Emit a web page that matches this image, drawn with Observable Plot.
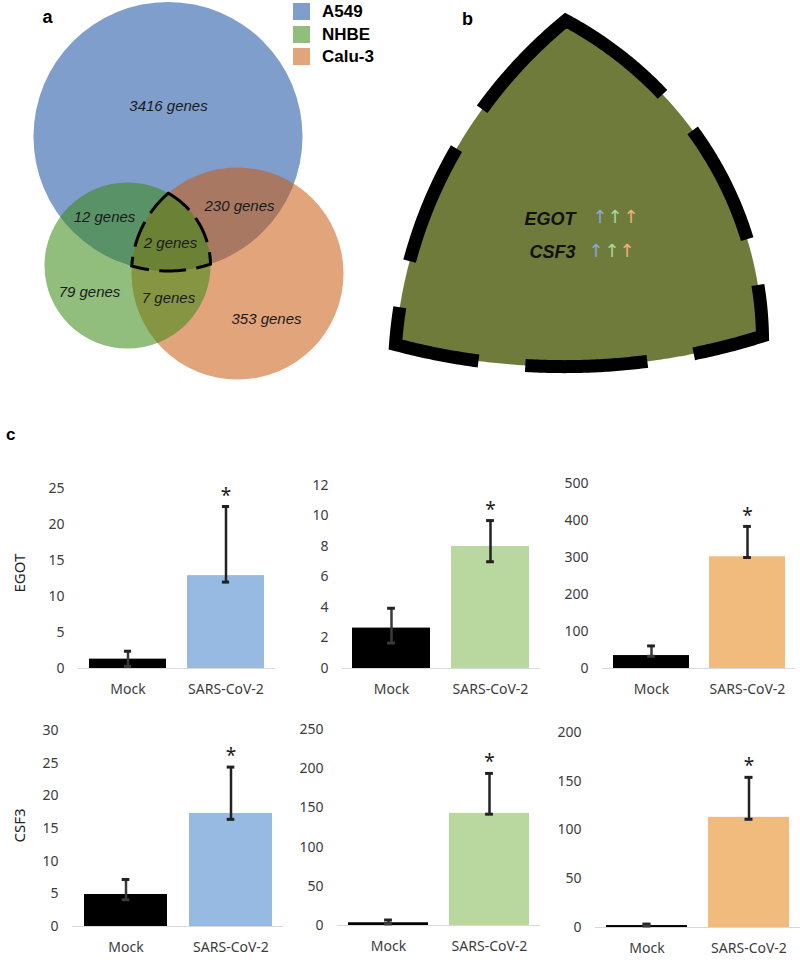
<!DOCTYPE html>
<html><head><meta charset="utf-8">
<script src="https://cdn.jsdelivr.net/npm/d3@7"></script>
<script src="https://cdn.jsdelivr.net/npm/@observablehq/plot@0.6"></script>
<style>
body{margin:0;background:#fff;}
#fig{position:relative;width:800px;height:960px;overflow:hidden;font-family:"Liberation Sans",Arial,sans-serif;color:#000;}
.panel{position:absolute;}
.plabel{position:absolute;font-weight:bold;line-height:1;}
.leg{position:absolute;display:flex;align-items:center;font-weight:bold;font-size:17px;line-height:1;}
.leg span.sw{display:inline-block;width:17px;height:17px;margin-right:12px;}
</style></head>
<body><div id="fig"></div>
<script>
// ---------------- DATA ----------------
const cellLines = ["A549", "NHBE", "Calu-3"];
const legendColors = ["#809ecc", "#92be7d", "#e2a47a"];
const vennFill = {"A549": "#184fa2", "NHBE": "#398913", "Calu-3": "#ca5a0d"};
// Venn circle geometry (diagram units = px of panel a)
const vennSetNames = ["A549", "NHBE", "Calu-3"];
const vennCx = [167.5, 127, 237];
const vennCy = [136, 265, 273];
const vennR = [134.5, 83, 106];
// region gene counts
const vennRegionCounts = [3416, 12, 230, 2, 79, 7, 353];
const vennLabelX = [168, 104, 239, 170, 89, 168, 266];
const vennLabelY = [106, 217, 206, 243, 292, 298, 319];

const commonGenes = ["EGOT", "CSF3"];
const arrowColors = ["#8fa6d6", "#a6d89b", "#f3b07a"];

const conditions = ["Mock", "SARS-CoV-2"];
const significant = [false, true];
const barColors = ["#96bae2", "#b8d8a0", "#f2bb7e"];
const egotMean = [[1.3, 12.9], [2.65, 8.0], [35, 302]];
const egotErrLow = [[0.3, 12.0], [1.67, 7.0], [33, 300]];
const egotErrHigh = [[2.4, 22.5], [3.95, 9.7], [61, 384]];
const csf3Mean = [[4.9, 17.3], [3.5, 143], [2, 113]];
const csf3ErrLow = [[4.1, 16.4], [2, 142], [1.5, 111]];
const csf3ErrHigh = [[7.2, 24.4], [7, 194], [3.5, 154]];
const egotTicks = [[0, 5, 10, 15, 20, 25], [0, 2, 4, 6, 8, 10, 12], [0, 100, 200, 300, 400, 500]];
const csf3Ticks = [[0, 5, 10, 15, 20, 25, 30], [0, 50, 100, 150, 200, 250], [0, 50, 100, 150, 200]];

// ---------------- LAYOUT ----------------
const panelLayout = [
  [{left:0,top:470,width:285,height:230,ml:78,mr:10,mt:18,mb:32},
   {left:285,top:470,width:260,height:230,ml:57,mr:5,mt:15,mb:32},
   {left:545,top:470,width:255,height:230,ml:57,mr:5,mt:13,mb:32}],
  [{left:0,top:715,width:290,height:245,ml:72,mr:7,mt:15,mb:34},
   {left:290,top:715,width:255,height:245,ml:47,mr:5,mt:14,mb:35},
   {left:545,top:715,width:255,height:245,ml:50,mr:0,mt:17,mb:33}]
];

const fig = document.getElementById("fig");
function place(node, left, top) {
  const d = document.createElement("div");
  d.className = "panel"; d.style.left = left + "px"; d.style.top = top + "px";
  d.appendChild(node); fig.appendChild(d);
}
function addLabel(t, left, top, size) {
  const d = document.createElement("div");
  d.className = "plabel"; d.textContent = t;
  d.style.left = left + "px"; d.style.top = top + "px"; d.style.fontSize = size + "px";
  fig.appendChild(d);
}

// ---------------- Venn geometry: triple intersection ----------------
const circles = vennSetNames.map((s, i) => ({set: s, cx: vennCx[i], cy: vennCy[i], r: vennR[i]}));
const inside = (p, c, tol = 0.01) => Math.hypot(p[0] - c.cx, p[1] - c.cy) <= c.r + tol;
function intersections(a, b) {
  const dx = b.cx - a.cx, dy = b.cy - a.cy, d = Math.hypot(dx, dy);
  const l = (a.r * a.r - b.r * b.r + d * d) / (2 * d), h = Math.sqrt(Math.max(0, a.r * a.r - l * l));
  const px = a.cx + l * dx / d, py = a.cy + l * dy / d;
  return [[px - h * dy / d, py + h * dx / d], [px + h * dy / d, py - h * dx / d]];
}
let pts = [];
const vertices = [];
for (let i = 0; i < 3; i++) for (let j = i + 1; j < 3; j++) {
  const k = 3 - i - j;
  for (const p of intersections(circles[i], circles[j])) if (inside(p, circles[k], 0.05)) vertices.push(p);
}
for (const c of circles) {
  const others = circles.filter(o => o !== c);
  const N = 1440;
  for (let i = 0; i < N; i++) {
    const t = i / N * 2 * Math.PI;
    const p = [c.cx + c.r * Math.cos(t), c.cy + c.r * Math.sin(t)];
    if (others.every(o => inside(p, o, -0.001))) pts.push(p);
  }
}
pts = pts.concat(vertices);
const gx = d3.mean(pts, p => p[0]), gy = d3.mean(pts, p => p[1]);
pts.sort((a, b) => Math.atan2(a[1] - gy, a[0] - gx) - Math.atan2(b[1] - gy, b[0] - gx));
const topV = vertices.reduce((m, v) => v[1] < m[1] ? v : m);
const startIdx = pts.indexOf(topV);
pts = pts.slice(startIdx).concat(pts.slice(0, startIdx));
const tripleRegion = pts.map(p => ({x: p[0], y: p[1]}));
const leftV = vertices.reduce((m, v) => v[0] < m[0] ? v : m);
const rightV = vertices.reduce((m, v) => v[0] > m[0] ? v : m);

// dashed outline: nd dashes separated by nd-1 gaps, starting and ending on the top vertex
// (first and last dash merge into one chevron there). Lengths measured in screen px.
function dashSegments(region, sx, sy, nd, ratio) {
  const P = region.map(p => [p.x, p.y]);
  P.push(P[0]);
  const cum = [0];
  for (let i = 1; i < P.length; i++)
    cum.push(cum[i - 1] + Math.hypot(sx(P[i][0]) - sx(P[i - 1][0]), sy(P[i][1]) - sy(P[i - 1][1])));
  const L = cum[cum.length - 1];
  const pointAt = s => {
    s = ((s % L) + L) % L;
    let i = d3.bisectRight(cum, s) - 1;
    i = Math.max(0, Math.min(i, P.length - 2));
    const seg = cum[i + 1] - cum[i] || 1;
    const t = (s - cum[i]) / seg;
    return [P[i][0] + (P[i + 1][0] - P[i][0]) * t, P[i][1] + (P[i + 1][1] - P[i][1]) * t];
  };
  const gap = L / (nd * ratio + (nd - 1)), dash = gap * ratio, period = dash + gap;
  const intervals = [[-dash, dash]];
  for (let k = 1; k <= nd - 2; k++) intervals.push([k * period, k * period + dash]);
  const out = [];
  intervals.forEach(([a, b], k) => {
    const ss = [a, b];
    for (const c of cum) for (const off of [-L, 0, L]) { const s = c + off; if (s > a && s < b) ss.push(s); }
    ss.sort((u, v) => u - v);
    for (const s of ss) { const q = pointAt(s); out.push({x: q[0], y: q[1], dash: k}); }
  });
  return out;
}
const outlineStyle = {strokeLinecap: "butt", strokeLinejoin: "miter", strokeMiterlimit: 10};

// ---------------- Panel a: Venn ----------------
{
  const W = 380, H = 385;
  const order = ["A549", "Calu-3", "NHBE"];
  const labels = vennRegionCounts.map((n, i) => ({x: vennLabelX[i], y: vennLabelY[i], text: `${n} genes`}));
  const ident = d3.scaleLinear();
  const dashes = dashSegments(tripleRegion, ident, ident, 7, 2.6);
  const svg = Plot.plot({
    width: W, height: H, margin: 0,
    x: {domain: [0, W], range: [0, W], axis: null},
    y: {domain: [0, H], range: [0, H], axis: null},
    style: {background: "transparent", overflow: "visible"},
    marks: [
      ...order.map(name => {
        const c = circles.find(d => d.set === name);
        return Plot.dot([c], {x: "cx", y: "cy", r: c.r, fill: vennFill[name], fillOpacity: 0.55, stroke: "none"});
      }),
      Plot.line(dashes, {x: "x", y: "y", z: "dash", stroke: "#000", strokeWidth: 3, ...outlineStyle}),
      Plot.text(labels, {x: "x", y: "y", text: "text", fontSize: 15, fontStyle: "italic", fill: "#1a1a1a",
        fontFamily: "Liberation Sans, Arial, sans-serif"})
    ]
  });
  place(svg, 0, 0);
}

// legend
cellLines.forEach((name, i) => {
  const d = document.createElement("div");
  d.className = "leg";
  d.style.left = "293px"; d.style.top = (3 + i * 22.5) + "px";
  d.innerHTML = `<span class="sw" style="background:${legendColors[i]}"></span><span>${name}</span>`;
  fig.appendChild(d);
});

// ---------------- Panel b: magnified intersection ----------------
{
  const W = 420, H = 385;
  const xD = [leftV[0], rightV[0]], yD = [topV[1], Math.max(leftV[1], rightV[1])];
  const xR = [15, 382], yR = [20, 344];
  const sx = d3.scaleLinear().domain(xD).range(xR), sy = d3.scaleLinear().domain(yD).range(yR);
  const dashes = dashSegments(tripleRegion, sx, sy, 7, 2.6);
  const marks = [
    Plot.line(tripleRegion, {x: "x", y: "y", curve: "linear-closed", fill: "#6e7b3b", stroke: "none"}),
    Plot.line(dashes, {x: "x", y: "y", z: "dash", stroke: "#000", strokeWidth: 13, ...outlineStyle}),
  ];
  const geneDy = [212, 245];
  const arrowDx = [[212, 227, 243], [208, 224, 239]];
  const arrowDy = [210, 244];
  commonGenes.forEach((g, gi) => {
    marks.push(Plot.text([g], {frameAnchor: "top-left", dx: 195, dy: geneDy[gi], text: d => d, textAnchor: "end",
      fontSize: 18, fontWeight: "bold", fontStyle: "italic", fill: "#111", fontFamily: "Liberation Sans, Arial, sans-serif"}));
    arrowColors.forEach((c, ai) => {
      marks.push(Plot.text(["↑"], {frameAnchor: "top-left", dx: arrowDx[gi][ai], dy: arrowDy[gi], text: d => d,
        fontSize: 18, fill: c, fontFamily: "DejaVu Sans, sans-serif"}));
    });
  });
  const svg = Plot.plot({
    width: W, height: H, margin: 0,
    x: {domain: xD, range: xR, axis: null},
    y: {domain: yD, range: yR, axis: null},
    style: {background: "transparent", overflow: "visible"},
    marks
  });
  place(svg, 380, 0);
}

addLabel("a", 42.5, 8, 18);
addLabel("b", 462, 10, 18);
addLabel("c", 6, 425.5, 17);

// ---------------- Panel c: bar charts ----------------
const geneData = [
  {gene: "EGOT", mean: egotMean, lo: egotErrLow, hi: egotErrHigh, ticks: egotTicks},
  {gene: "CSF3", mean: csf3Mean, lo: csf3ErrLow, hi: csf3ErrHigh, ticks: csf3Ticks}
];
geneData.forEach((G, gi) => {
  cellLines.forEach((cl, ci) => {
    const L = panelLayout[gi][ci];
    const rows = conditions.map((c, k) => ({cond: c, mean: G.mean[ci][k], lo: G.lo[ci][k], hi: G.hi[ci][k], sig: significant[k]}));
    const ticks = G.ticks[ci];
    const step = (L.width - L.ml - L.mr) / 2;
    const bw = step * (1 - 0.21);
    const capInset = (bw - 8) / 2;
    const marks = [
      Plot.ruleY([0], {stroke: "#d9d9d9", strokeWidth: 1}),
      Plot.barY(rows.filter(d => d.cond === "Mock"), {x: "cond", y: "mean", fill: "#000"}),
      Plot.barY(rows.filter(d => d.cond !== "Mock"), {x: "cond", y: "mean", fill: barColors[ci]}),
      Plot.ruleX(rows, {x: "cond", y1: "lo", y2: "hi", stroke: d => d.cond === "Mock" ? "#3a3a3a" : "#222", strokeWidth: 2.5}),
      Plot.tickY(rows, {x: "cond", y: "hi", stroke: "#222", strokeWidth: 3, insetLeft: capInset, insetRight: capInset}),
      Plot.tickY(rows, {x: "cond", y: "lo", stroke: d => d.cond === "Mock" ? "#3a3a3a" : "#222", strokeWidth: 3, insetLeft: capInset, insetRight: capInset}),
      Plot.text(rows.filter(d => d.sig), {x: "cond", y: "hi", text: () => "*", dy: -11, fontSize: 19, fill: "#1a1a1a"}),
      Plot.axisY({ticks, tickSize: 0, tickPadding: 14, label: null, fontSize: 14}),
      Plot.axisX({tickSize: 0, tickPadding: 16, label: null, fontSize: 14})
    ];
    if (ci === 0) {
      marks.push(Plot.text([G.gene], {frameAnchor: "left", dx: 20 - L.ml, dy: 14, rotate: -90, text: d => d,
        fontSize: 15, fill: "#222222"}));
    }
    const svg = Plot.plot({
      width: L.width, height: L.height,
      marginLeft: L.ml, marginRight: L.mr, marginTop: L.mt, marginBottom: L.mb,
      color: {type: "identity"},
      style: {fontFamily: "'Noto Sans', sans-serif", fontSize: "14px", color: "#3c3c3c", background: "transparent", overflow: "visible"},
      x: {domain: conditions, paddingInner: 0.21, paddingOuter: 0.105, label: null},
      y: {domain: [0, d3.max(ticks)], label: null},
      marks
    });
    place(svg, L.left, L.top);
  });
});
</script>
</body></html>
